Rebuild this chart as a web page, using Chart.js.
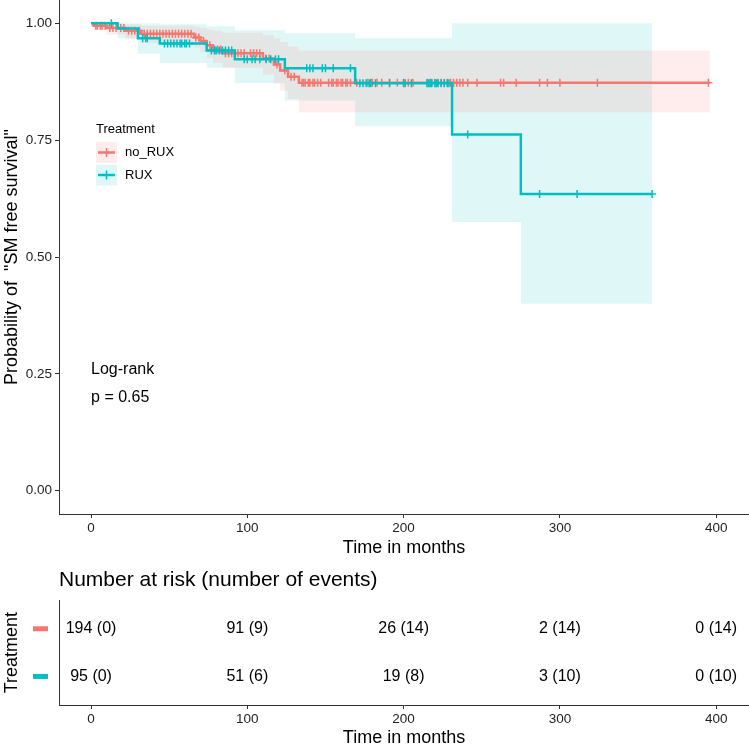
<!DOCTYPE html>
<html>
<head>
<meta charset="utf-8">
<script src="https://cdn.jsdelivr.net/npm/chart.js@4.4.1/dist/chart.umd.min.js"></script>
<style>
  html, body { margin: 0; padding: 0; background: #fff; }
  canvas { display: block; }
</style>
</head>
<body>
<canvas id="kmChart" width="749" height="560"></canvas>
<canvas id="riskChart" width="749" height="186"></canvas>
<script>
// --- data ---
const groups = ['no_RUX', 'RUX'];
const timeTicks = [0, 100, 200, 300, 400];
const probTicks = [0, 0.25, 0.5, 0.75, 1];

// no_RUX: event times and KM estimate, with CI
const redTimes = [0, 2, 10, 22, 32, 66, 70, 74, 78, 84, 110, 117, 121, 126, 133, 396];
const redSurv  = [1, 0.995, 0.990, 0.984, 0.978, 0.970, 0.962, 0.953, 0.944, 0.936, 0.925, 0.912, 0.899, 0.886, 0.873, 0.873];
const redUpper = [1, 1, 1, 0.998, 0.995, 0.992, 0.99, 0.987, 0.984, 0.98, 0.975, 0.968, 0.96, 0.95, 0.942, 0.942];
const redLower = [1, 0.985, 0.976, 0.966, 0.958, 0.948, 0.938, 0.926, 0.915, 0.905, 0.89, 0.872, 0.856, 0.838, 0.81, 0.81];
const redCensor = [3, 4, 6, 7, 9, 12, 14, 16, 19, 21, 24, 26, 28, 31, 34, 36, 38, 40, 42, 44, 46, 48, 50, 52, 54, 56,
  58, 60, 62, 64, 67, 69, 72, 76, 79, 81, 83, 86, 88, 90, 92, 94, 96, 98, 102, 104, 106, 108, 112, 114, 119, 124,
  128, 130, 135, 136, 137, 139, 140, 142, 143, 145, 147, 152, 154, 155, 157, 158, 160, 161, 163, 164, 166, 170,
  177, 179, 180, 183, 186, 191, 196, 200, 203, 206, 215, 217, 218, 220, 222, 224, 226, 228, 230, 232, 234, 236,
  238, 241, 247, 262, 264, 272, 287, 292, 300, 324, 395];

// RUX
const blueTimes = [0, 17, 30, 44, 74, 92, 124, 169, 231, 275, 359];
const blueSurv  = [1, 0.989, 0.968, 0.957, 0.942, 0.923, 0.904, 0.872, 0.762, 0.635, 0.635];
const blueUpper = [1, 1, 1, 0.998, 0.994, 0.985, 0.979, 0.968, 1, 1, 1];
const blueLower = [1, 0.968, 0.935, 0.915, 0.905, 0.872, 0.835, 0.78, 0.575, 0.40, 0.40];
const blueCensor = [13, 33, 35, 36, 47, 49, 51, 53, 55, 57, 58, 60, 61, 63, 77, 79, 80, 82, 84, 86, 88, 90, 98, 100,
  103, 105, 108, 112, 115, 118, 120, 138, 140, 142, 148, 150, 155, 166, 172, 174, 176, 178, 179, 182, 191, 200,
  201, 205, 215, 216, 217, 218, 220, 221, 222, 224, 226, 228, 229, 241, 287, 311, 359];

// number at risk table
const riskTimes = [0, 100, 200, 300, 400];
const atRiskNoRux = [194, 91, 26, 2, 0];
const eventsNoRux = [0, 9, 14, 14, 14];
const atRiskRux = [95, 51, 19, 3, 0];
const eventsRux = [0, 6, 8, 10, 10];

const pValue = 0.65;

// --- styling ---
const RED = '#F8766D';
const BLUE = '#00BFC4';
const RED_FILL = 'rgba(248,118,109,0.13)';
const BLUE_FILL = 'rgba(0,191,196,0.12)';
const FONT = '"Liberation Sans", Arial, sans-serif';
const AXIS = '#333';

Chart.defaults.font.family = FONT;
Chart.defaults.color = '#000';

const pts = (times, vals) => times.map((t, i) => ({ x: t, y: vals[i] }));
function survAt(times, surv, t) {
  let v = surv[0];
  for (let i = 0; i < times.length; i++) if (times[i] <= t) v = surv[i];
  return v;
}
const censorPts = (cens, times, surv) => cens.map(t => ({ x: t, y: survAt(times, surv, t) }));

const band = (data, fill, color) => ({
  data: data, stepped: true, pointRadius: 0, borderWidth: 0,
  borderColor: 'transparent', fill: fill, backgroundColor: color, order: 5
});

function fixWidth(w) {
  return s => { s.width = w; s.paddingTop = 0; s.paddingBottom = 0; };
}
function fixHeight(h) {
  return s => { s.height = h; s.paddingLeft = 0; s.paddingRight = 0; };
}

const kmOverlay = {
  id: 'kmOverlay',
  afterDraw(chart) {
    const { ctx, scales: { x, y } } = chart;
    ctx.save();
    ctx.textBaseline = 'middle';
    ctx.textAlign = 'left';
    ctx.fillStyle = '#000';
    ctx.font = '16px ' + FONT;
    ctx.fillText('Log-rank', x.getPixelForValue(0), y.getPixelForValue(0.258));
    ctx.fillText('p = ' + pValue.toFixed(2), x.getPixelForValue(0), y.getPixelForValue(0.199));

    // legend
    ctx.font = '13px ' + FONT;
    ctx.fillText('Treatment', 96, 129);
    const keys = [[RED, RED_FILL, 152.5], [BLUE, BLUE_FILL, 175]];
    keys.forEach(([col, fill, cy], i) => {
      ctx.fillStyle = fill;
      ctx.fillRect(96, cy - 10.5, 21, 21);
      ctx.strokeStyle = col;
      ctx.lineWidth = 2.5;
      ctx.beginPath();
      ctx.moveTo(98, cy); ctx.lineTo(115, cy);
      ctx.stroke();
      ctx.lineWidth = 1.5;
      ctx.beginPath();
      ctx.moveTo(106.5, cy - 4.5); ctx.lineTo(106.5, cy + 4.5);
      ctx.stroke();
      ctx.fillStyle = '#000';
      ctx.fillText(groups[i], 125, cy);
    });
    ctx.restore();
  }
};

new Chart(document.getElementById('kmChart'), {
  type: 'line',
  data: {
    datasets: [
      { label: 'RUX', data: pts(blueTimes, blueSurv), stepped: true, borderColor: BLUE, borderWidth: 2.5, pointRadius: 0, fill: false, order: 0 },
      { label: 'RUX censored', data: censorPts(blueCensor, blueTimes, blueSurv), showLine: false, pointStyle: 'cross',
        pointRadius: 4, pointBorderWidth: 1.5, pointBorderColor: BLUE, order: 0 },
      { label: 'no_RUX', data: pts(redTimes, redSurv), stepped: true, borderColor: RED, borderWidth: 2.5, pointRadius: 0, fill: false, order: 1 },
      { label: 'no_RUX censored', data: censorPts(redCensor, redTimes, redSurv), showLine: false, pointStyle: 'cross',
        pointRadius: 4, pointBorderWidth: 1.5, pointBorderColor: RED, order: 1 },
      band(pts(redTimes, redUpper), false, RED_FILL),
      band(pts(redTimes, redLower), '-1', RED_FILL),
      band(pts(blueTimes, blueUpper), false, BLUE_FILL),
      band(pts(blueTimes, blueLower), '-1', BLUE_FILL)
    ]
  },
  options: {
    responsive: false,
    devicePixelRatio: 1,
    animation: false,
    events: [],
    layout: { padding: 0, autoPadding: false },
    plugins: {
      legend: { display: false },
      tooltip: { enabled: false },
      filler: { drawTime: 'beforeDatasetsDraw' }
    },
    scales: {
      x: {
        type: 'linear', min: -20.5, max: 421,
        afterBuildTicks: s => { s.ticks = timeTicks.map(v => ({ value: v })); },
        afterFit: fixHeight(46),
        ticks: { font: { size: 13.5 }, color: '#222', padding: 2, maxRotation: 0 },
        grid: { drawOnChartArea: false, drawTicks: true, tickLength: 4, color: AXIS },
        border: { display: true, color: AXIS, width: 1 },
        title: { display: true, text: 'Time in months', font: { size: 18 }, color: '#000', padding: { top: 0, bottom: 1 } }
      },
      y: {
        type: 'linear', min: -0.05, max: 1.05,
        afterBuildTicks: s => { s.ticks = probTicks.map(v => ({ value: v })); },
        afterFit: fixWidth(59),
        ticks: { font: { size: 13.5 }, color: '#222', padding: 3, callback: v => v.toFixed(2) },
        grid: { drawOnChartArea: false, drawTicks: true, tickLength: 4, color: AXIS },
        border: { display: true, color: AXIS, width: 1 },
        title: { display: true, text: 'Probability of  "SM free survival"', font: { size: 18 }, color: '#000', padding: { top: 1, bottom: 0 } }
      }
    }
  },
  plugins: [kmOverlay]
});

// --- risk table ---
const riskColors = [RED, BLUE];
const riskText = [
  atRiskNoRux.map((n, i) => n + ' (' + eventsNoRux[i] + ')'),
  atRiskRux.map((n, i) => n + ' (' + eventsRux[i] + ')')
];

const riskLabels = {
  id: 'riskLabels',
  afterDatasetsDraw(chart) {
    const ctx = chart.ctx;
    ctx.save();
    ctx.font = '16px ' + FONT;
    ctx.textAlign = 'center';
    ctx.textBaseline = 'middle';
    chart.data.datasets.forEach((ds, i) => {
      const meta = chart.getDatasetMeta(i);
      meta.data.forEach((p, j) => {
        ctx.fillStyle = '#000';
        ctx.fillText(riskText[i][j], p.x, p.y);
      });
      const yy = meta.data[0].y;
      ctx.fillStyle = riskColors[i];
      ctx.fillRect(33, yy - 2.5, 15, 5);
    });
    ctx.restore();
  }
};

new Chart(document.getElementById('riskChart'), {
  type: 'scatter',
  data: {
    datasets: [
      { label: groups[0], data: riskTimes.map(t => ({ x: t, y: 2 })), pointRadius: 0 },
      { label: groups[1], data: riskTimes.map(t => ({ x: t, y: 1 })), pointRadius: 0 }
    ]
  },
  options: {
    responsive: false,
    devicePixelRatio: 1,
    animation: false,
    events: [],
    layout: { padding: 0, autoPadding: false },
    plugins: {
      legend: { display: false },
      tooltip: { enabled: false },
      title: {
        display: true, text: 'Number at risk (number of events)', align: 'start', fullSize: false,
        font: { size: 21, weight: 'normal' }, color: '#000', padding: { top: 8, bottom: 7 }
      }
    },
    scales: {
      x: {
        type: 'linear', min: -20.5, max: 421,
        afterBuildTicks: s => { s.ticks = riskTimes.map(v => ({ value: v })); },
        afterFit: fixHeight(41),
        ticks: { font: { size: 13.5 }, color: '#222', padding: 2, maxRotation: 0 },
        grid: { drawOnChartArea: false, drawTicks: true, tickLength: 4, color: AXIS },
        border: { display: true, color: AXIS, width: 1 },
        title: { display: true, text: 'Time in months', font: { size: 18 }, color: '#000', padding: { top: 0, bottom: -3 } }
      },
      y: {
        type: 'linear', min: 0.4, max: 2.6,
        afterFit: fixWidth(59),
        ticks: { display: false },
        grid: { display: false },
        border: { display: true, color: AXIS, width: 1 },
        title: { display: true, text: 'Treatment', font: { size: 18 }, color: '#000', padding: { top: 1, bottom: 0 } }
      }
    }
  },
  plugins: [riskLabels]
});
</script>
</body>
</html>
